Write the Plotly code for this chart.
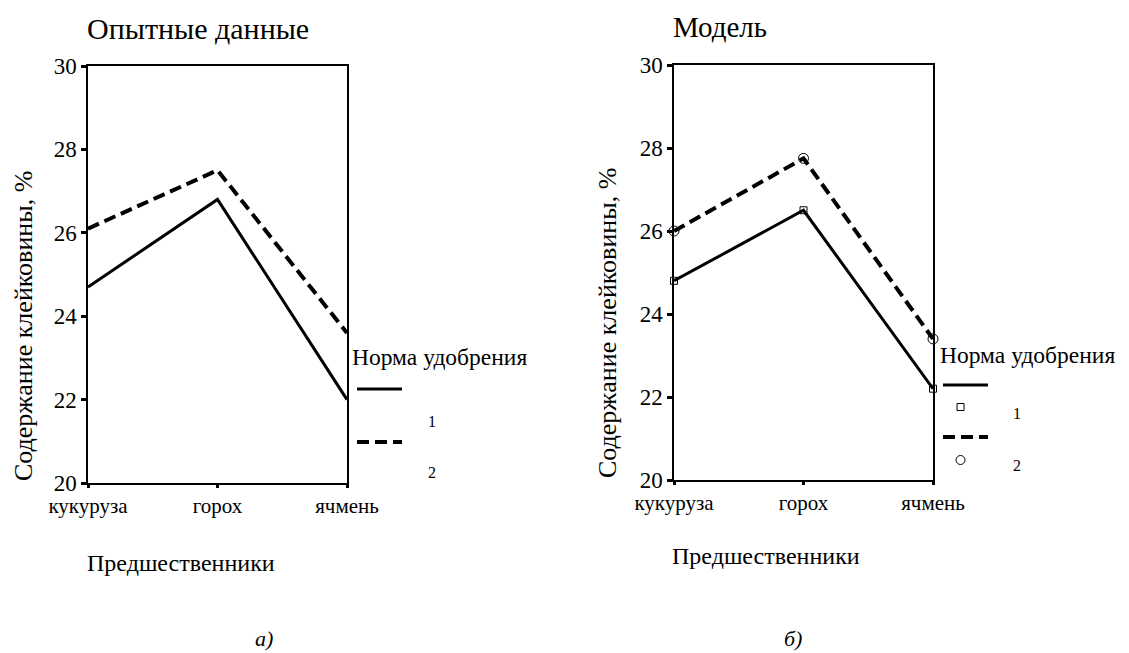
import plotly.graph_objects as go

categories = ["кукуруза", "горох", "ячмень"]
exp_norm1 = [24.7, 26.8, 22.0]
exp_norm2 = [26.1, 27.5, 23.6]
mod_norm1 = [24.8, 26.5, 22.2]
mod_norm2 = [26.0, 27.75, 23.4]
y_ticks = [20, 22, 24, 26, 28, 30]

W, H = 1129, 653
OFF = 8  # page body margin
FONT = "Liberation Serif"


def px(x):
    return (x - OFF) / W


def py(y):
    return 1 - (y - OFF) / H


fig = go.Figure()

DASH = "12px,6px"

fig.add_trace(go.Scatter(x=categories, y=exp_norm1, mode="lines",
                         line=dict(color="black", width=3), xaxis="x", yaxis="y", showlegend=False))
fig.add_trace(go.Scatter(x=categories, y=exp_norm2, mode="lines",
                         line=dict(color="black", width=4, dash=DASH), xaxis="x", yaxis="y", showlegend=False))
fig.add_trace(go.Scatter(x=categories, y=mod_norm1, mode="lines+markers", cliponaxis=False,
                         line=dict(color="black", width=3),
                         marker=dict(symbol="square-open", size=7, color="black", line=dict(width=1)),
                         xaxis="x2", yaxis="y2", showlegend=False))
fig.add_trace(go.Scatter(x=categories, y=mod_norm2, mode="lines+markers", cliponaxis=False,
                         line=dict(color="black", width=4, dash=DASH),
                         marker=dict(symbol="circle-open", size=10, color="black", line=dict(width=1)),
                         xaxis="x2", yaxis="y2", showlegend=False))

xax = dict(type="category", categoryorder="array", categoryarray=categories,
           range=[0, 2], showline=True, linecolor="black", linewidth=1.5, mirror=True,
           ticks="outside", ticklen=3, tickwidth=3, tickcolor="black",
           showgrid=False, zeroline=False, automargin=False,
           tickfont=dict(family=FONT, size=21, color="black"), fixedrange=True)
yax = dict(range=[20, 30], tickvals=y_ticks, showline=True, linecolor="black", linewidth=1.5,
           mirror=True, ticks="outside", ticklen=5, tickwidth=3, tickcolor="black",
           showgrid=False, zeroline=False, automargin=False,
           tickfont=dict(family=FONT, size=23, color="black"), fixedrange=True)

fig.update_layout(
    width=W, height=H,
    margin=dict(l=0, r=0, t=0, b=0, autoexpand=False),
    font=dict(family=FONT, color="black"),
    plot_bgcolor="white", paper_bgcolor="white",
    xaxis=dict(xax, domain=[px(88), px(347)], anchor="y"),
    yaxis=dict(yax, domain=[py(483), py(66)], anchor="x"),
    xaxis2=dict(xax, domain=[px(674), px(933)], anchor="y2"),
    yaxis2=dict(yax, domain=[py(480), py(65)], anchor="x2"),
)

ann = []
shapes = []


def text(x, y, s, size, xanchor="left", yanchor="middle", angle=0, italic=False):
    ann.append(dict(x=px(x), y=py(y), xref="paper", yref="paper", text=s, showarrow=False,
                    xanchor=xanchor, yanchor=yanchor, textangle=angle,
                    font=dict(family=FONT, size=size, color="black",
                              style="italic" if italic else "normal")))


# panel titles
text(85, 28, "Опытные данные", 30)
text(671, 27, "Модель", 29)
# x-axis titles
text(85, 563, "Предшественники", 24)
text(670, 556, "Предшественники", 24)
# y-axis titles
text(23, 483, "Содержание клейковины, %", 26, xanchor="center", yanchor="bottom", angle=-90)
text(608, 480, "Содержание клейковины, %", 26, xanchor="center", yanchor="bottom", angle=-90)
# captions
text(264, 638, "а)", 22, xanchor="center", italic=True)
text(793, 638, "б)", 22, xanchor="center", italic=True)

# legend left
text(350, 357, "Норма удобрения", 23.5)
shapes.append(dict(type="line", xref="paper", yref="paper", x0=px(357), x1=px(402), y0=py(389), y1=py(389),
                   line=dict(color="black", width=3)))
text(432, 421, "1", 16, xanchor="center")
shapes.append(dict(type="line", xref="paper", yref="paper", x0=px(357), x1=px(402), y0=py(442), y1=py(442),
                   line=dict(color="black", width=4, dash=DASH)))
text(432, 472, "2", 16, xanchor="center")

# legend right
text(938, 355, "Норма удобрения", 23.5)
shapes.append(dict(type="line", xref="paper", yref="paper", x0=px(943), x1=px(988), y0=py(385), y1=py(385),
                   line=dict(color="black", width=3)))
shapes.append(dict(type="rect", xref="paper", yref="paper", x0=px(957), x1=px(964), y0=py(403.5), y1=py(410.5),
                   line=dict(color="black", width=1), fillcolor="white"))
text(1017, 413, "1", 16, xanchor="center")
shapes.append(dict(type="line", xref="paper", yref="paper", x0=px(943), x1=px(988), y0=py(437), y1=py(437),
                   line=dict(color="black", width=4, dash=DASH)))
shapes.append(dict(type="circle", xref="paper", yref="paper", x0=px(956), x1=px(965), y0=py(455.5), y1=py(464.5),
                   line=dict(color="black", width=1), fillcolor="white"))
text(1017, 465, "2", 16, xanchor="center")

fig.update_layout(annotations=ann, shapes=shapes)

fig.write_html("out.html")
